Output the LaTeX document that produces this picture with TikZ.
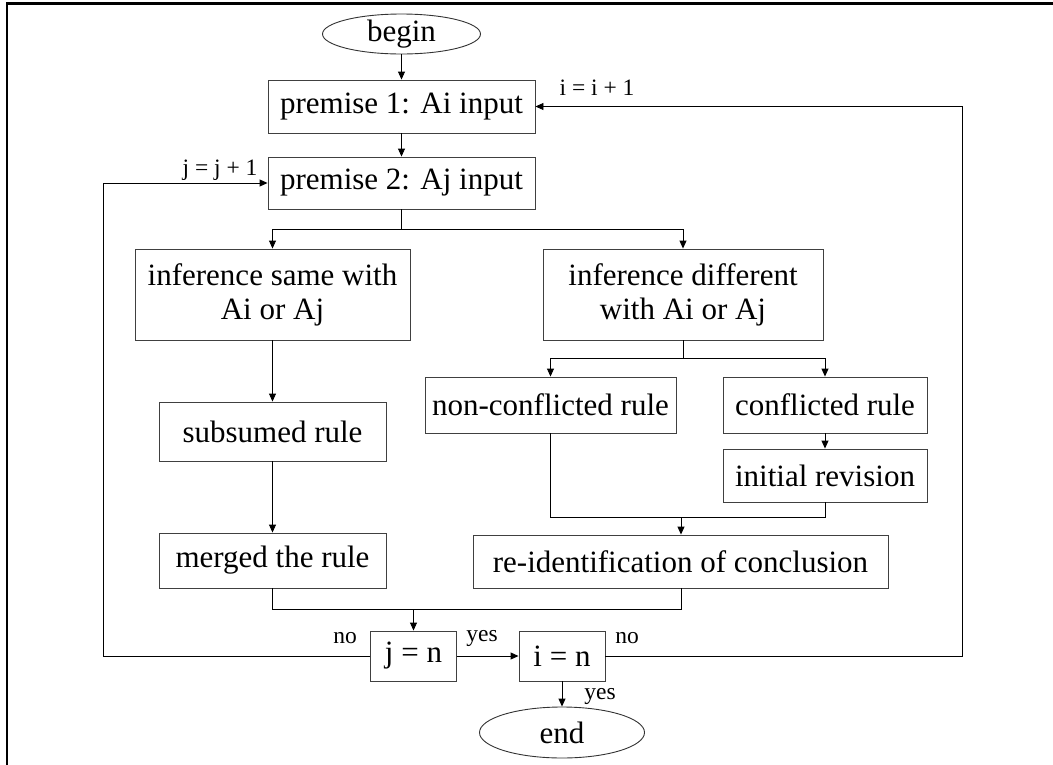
\documentclass[tikz,border=0pt]{standalone}
\usepackage{fontspec}
\setmainfont{Liberation Serif}
\usetikzlibrary{arrows.meta,shapes.geometric}

\tikzset{
  box/.style={draw=black!75, line width=0.9pt, rectangle, inner sep=0pt, align=center,
              font=\fontsize{31}{34}\selectfont},
  term/.style={draw=black!80, line width=0.9pt, ellipse, inner sep=0pt,
               font=\fontsize{31}{34}\selectfont},
  link/.style={draw=black, line width=0.9pt},
  arr/.style={link, -{Triangle[length=8pt,width=7pt]}},
  lbl/.style={inner sep=0pt, font=\fontsize{23.5}{25}\selectfont}
}

\begin{document}
\begin{tikzpicture}[x=1pt, y=-1pt]
\useasboundingbox (0,0) rectangle (1053,764);

% outer frame
\draw[line width=2.2pt] (7,766) -- (7,3.5) -- (1056,3.5);

% start / stop
\node[term, minimum width=158pt, minimum height=40pt] (begin) at (401.5,34) {begin};
\node[term, minimum width=165pt, minimum height=51pt] (end) at (562,732.5) {end};

% input steps
\node[box, minimum width=267pt, minimum height=53pt] (p1) at (401.5,106.5) {premise 1: Ai input};
\node[box, minimum width=267pt, minimum height=52pt] (p2) at (401.5,183) {premise 2: Aj input};

% two inference branches
\node[box, minimum width=275pt, minimum height=91pt] (infs) at (272.5,294.5) {inference same with\\Ai or Aj};
\node[box, minimum width=280pt, minimum height=91pt] (infd) at (683,294.5) {inference different\\with Ai or Aj};

% left branch
\node[box, minimum width=227pt, minimum height=59pt] (sub) at (272.5,431.5) {subsumed rule};
\node[box, minimum width=227pt, minimum height=55pt] (merg) at (272.5,560.5) {merged the rule};

% right branch
\node[box, minimum width=251pt, minimum height=56pt] (noncf) at (550.5,405) {non-conflicted rule};
\node[box, minimum width=204pt, minimum height=56pt] (cf) at (825,405) {conflicted rule};
\node[box, minimum width=204pt, minimum height=53pt] (init) at (825,475.5) {initial revision};
\node[box, minimum width=415pt, minimum height=53pt] (reid) at (680.5,561.5) {re-identification of conclusion};

% loop tests
\node[box, minimum width=86pt, minimum height=50pt] (jn) at (413.5,656) {j = n};
\node[box, minimum width=86pt, minimum height=50pt] (in) at (562,656) {i = n};

% junction points
\coordinate (b1) at (401.5,229);
\coordinate (b2) at (683,358);
\coordinate (m1) at (681,517);
\coordinate (m2) at (413.5,609);
\coordinate (lx) at (103,656);
\coordinate (rx) at (962,656);

% main flow
\draw[arr] (begin) -- (p1);
\draw[arr] (p1) -- (p2);
\draw[link] (p2.south) -- (b1);
\draw[arr] (b1) -| (infs.north);
\draw[arr] (b1) -| (infd.north);
\draw[arr] (infs) -- (sub);
\draw[arr] (sub) -- (merg);
\draw[link] (infd.south) -- (b2);
\draw[arr] (b2) -| (noncf.north);
\draw[arr] (b2) -| (cf.north);
\draw[arr] (cf) -- (init);
\draw[link] (noncf.south) |- (m1);
\draw[link] (init.south) |- (m1);
\draw[arr] (m1) -- (m1 |- reid.north);
\draw[link] (merg.south) |- (m2);
\draw[link] (reid.south -| m1) |- (m2);
\draw[arr] (m2) -- (jn.north);
\draw[arr] (jn) -- (in);
\draw[arr] (in) -- (end);

% loops back
\draw[arr] (jn.west) -- (lx) |- (p2.west);
\draw[arr] (in.east) -- (rx) |- (p1.east);

% labels
\node[lbl] (li) at (597,88) {i = i + 1};
\node[lbl] (lj) at (220,170) {j = j + 1};
\node[lbl] (no1) at (345,638) {no};
\node[lbl] (yes1) at (482,638) {yes};
\node[lbl] (no2) at (627,638) {no};
\node[lbl] (yes2) at (600,696) {yes};
\end{tikzpicture}
\end{document}
